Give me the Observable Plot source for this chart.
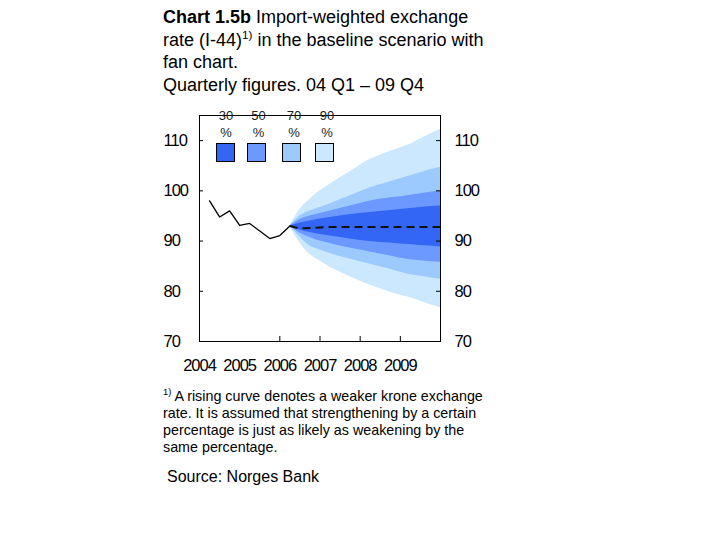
<!DOCTYPE html>
<html><head><meta charset="utf-8">
<script src="https://cdn.jsdelivr.net/npm/d3@7"></script>
<script src="https://cdn.jsdelivr.net/npm/@observablehq/plot@0.6"></script>
<style>
body{margin:0;background:#fff;}
#wrap{position:relative;width:720px;height:540px;font-family:"Liberation Sans",Arial,sans-serif;color:#000;overflow:hidden;}
#title{position:absolute;left:163px;top:6px;font-size:18px;line-height:22.5px;white-space:nowrap;}
#chart{position:absolute;left:150px;top:100px;}
.leg-label{position:absolute;width:30px;text-align:center;font-size:13px;line-height:16.5px;color:#222;}
.leg-box{position:absolute;width:17px;height:17px;border:1px solid #000;}
#note{position:absolute;left:163px;top:388px;font-size:14.3px;line-height:17px;white-space:nowrap;}
#source{position:absolute;left:167px;top:468px;font-size:16px;line-height:18px;}
sup{font-size:65%;line-height:0;vertical-align:0.6em;}
#chart svg text{letter-spacing:-1px;}
</style></head>
<body>
<div id="wrap">
  <div id="title"><b>Chart 1.5b</b> Import-weighted exchange<br>rate (I-44)<sup>1)</sup> in the baseline scenario with<br>fan chart.<br>Quarterly figures. 04 Q1 – 09 Q4</div>
  <div id="chart"></div>
  <div id="legend"></div>
  <div id="note"><sup>1)</sup> A rising curve denotes a weaker krone exchange<br>rate. It is assumed that strengthening by a certain<br>percentage is just as likely as weakening by the<br>same percentage.</div>
  <div id="source">Source: Norges Bank</div>
</div>
<script>
// Historical quarters and values
const histQuarters = ["2004Q1","2004Q2","2004Q3","2004Q4","2005Q1","2005Q2","2005Q3","2005Q4","2006Q1"];
const histValues = [98.0, 94.8, 96.0, 93.1, 93.5, 92.0, 90.5, 91.1, 93.0];

// Projection quarters and fan bounds
const fanQuarters = ["2006Q1","2006Q2","2006Q3","2006Q4","2007Q1","2007Q2","2007Q3","2007Q4",
                     "2008Q1","2008Q2","2008Q3","2008Q4","2009Q1","2009Q2","2009Q3","2009Q4"];
const central = [93.0, 92.5, 92.6, 92.7, 92.8, 92.8, 92.8, 92.8, 92.8, 92.8, 92.8, 92.8, 92.8, 92.8, 92.8, 92.8];
const upper30 = [93.0, 93.6, 94.0, 94.4, 94.7, 95.0, 95.3, 95.5, 95.7, 95.9, 96.1, 96.3, 96.5, 96.7, 96.9, 97.0];
const lower30 = [93.0, 92.2, 91.7, 91.3, 91.0, 90.7, 90.4, 90.1, 89.9, 89.7, 89.6, 89.4, 89.3, 89.1, 89.0, 88.8];
const upper50 = [93.0, 94.3, 95.0, 95.5, 96.0, 96.5, 97.0, 97.5, 98.0, 98.3, 98.6, 98.8, 99.1, 99.4, 99.7, 100.0];
const lower50 = [93.0, 91.6, 90.7, 90.0, 89.5, 89.0, 88.6, 88.2, 87.8, 87.4, 87.0, 86.6, 86.3, 86.1, 85.9, 85.8];
const upper70 = [93.0, 95.0, 96.0, 96.7, 97.4, 98.2, 99.0, 99.8, 100.6, 101.2, 101.8, 102.4, 103.0, 103.6, 104.2, 104.7];
const lower70 = [93.0, 90.8, 89.0, 88.2, 87.5, 86.9, 86.4, 85.9, 85.4, 84.9, 84.4, 83.8, 83.3, 83.0, 82.7, 82.4];
const upper90 = [93.0, 96.3, 98.3, 100.0, 101.3, 102.6, 103.8, 105.1, 106.3, 107.1, 107.9, 108.6, 109.3, 110.3, 111.3, 112.2];
const lower90 = [93.0, 89.6, 87.3, 86.0, 84.8, 83.8, 82.9, 82.0, 81.2, 80.5, 79.8, 79.2, 78.7, 78.0, 77.3, 76.7];

// Legend / bands
const bandLabels = ["30", "50", "70", "90"];
const bandColors = ["#3366f5", "#6b99ff", "#9ccaff", "#cce8ff"];

// Axis ticks
const yTicks = [70, 80, 90, 100, 110];
const xTickMarks = [2006, 2007, 2008, 2009];
const xTickLabels = [2004, 2005, 2006, 2007, 2008, 2009];

// quarter label -> decimal year (end of quarter)
const qx = s => +s.slice(0, 4) + (+s.slice(5)) / 4;

const hist = histQuarters.map((q, i) => ({x: qx(q), v: histValues[i]}));
const fan = fanQuarters.map((q, i) => ({
  x: qx(q), mid: central[i],
  u30: upper30[i], l30: lower30[i], u50: upper50[i], l50: lower50[i],
  u70: upper70[i], l70: lower70[i], u90: upper90[i], l90: lower90[i]
}));
const bands = [
  {lo: "l90", hi: "u90", color: bandColors[3]},
  {lo: "l70", hi: "u70", color: bandColors[2]},
  {lo: "l50", hi: "u50", color: bandColors[1]},
  {lo: "l30", hi: "u30", color: bandColors[0]}
];

const W = 340, H = 280, mL = 49, mR = 50, mT = 15, mB = 39;
const innerW = W - mL - mR, innerH = H - mT - mB;

const chart = Plot.plot({
  width: W, height: H,
  marginLeft: mL, marginRight: mR, marginTop: mT, marginBottom: mB,
  x: {domain: [2004, 2010], axis: null},
  y: {domain: [70, 115], axis: null},
  style: {background: "transparent", fontFamily: "'Liberation Sans', Arial, sans-serif", fontSize: "16.5px", overflow: "visible", color: "#000"},
  marks: [
    ...bands.map(b => Plot.areaY(fan, {x: "x", y1: b.lo, y2: b.hi, fill: b.color, curve: "monotone-x"})),
    Plot.line(hist, {x: "x", y: "v", stroke: "#000", strokeWidth: 1.3}),
    Plot.line(fan, {x: "x", y: "mid", stroke: "#111", strokeWidth: 2, strokeDasharray: "8,5", strokeLinecap: "butt"}),
    Plot.frame({stroke: "#000", strokeWidth: 1}),
    Plot.tickY(yTicks, {y: d => d, insetRight: innerW - 4, stroke: "#000"}),
    Plot.tickY(yTicks, {y: d => d, insetLeft: innerW - 4, stroke: "#000"}),
    Plot.tickX(xTickMarks, {x: d => d, insetTop: innerH - 5, stroke: "#000"}),
    Plot.text(yTicks, {y: d => d, text: d => String(d), frameAnchor: "left", textAnchor: "start", dx: -36, fill: "#000"}),
    Plot.text(yTicks, {y: d => d, text: d => String(d), frameAnchor: "right", textAnchor: "start", dx: 14, fill: "#000"}),
    Plot.text(xTickLabels, {x: d => d, text: d => String(d), frameAnchor: "bottom", dy: 29, fill: "#000"})
  ]
});
document.getElementById("chart").appendChild(chart);

// Legend overlay
const legend = document.getElementById("legend");
const boxCenters = [225, 256, 291, 324];
const labelCenters = [226, 258.5, 294, 327];
bandLabels.forEach((lab, i) => {
  const t = document.createElement("div");
  t.className = "leg-label";
  t.style.left = (labelCenters[i] - 15) + "px";
  t.style.top = "108px";
  t.innerHTML = lab + "<br>%";
  legend.appendChild(t);
  const b = document.createElement("div");
  b.className = "leg-box";
  b.style.left = (boxCenters[i] - 9) + "px";
  b.style.top = "143px";
  b.style.background = bandColors[i];
  legend.appendChild(b);
});
</script>
</body></html>
